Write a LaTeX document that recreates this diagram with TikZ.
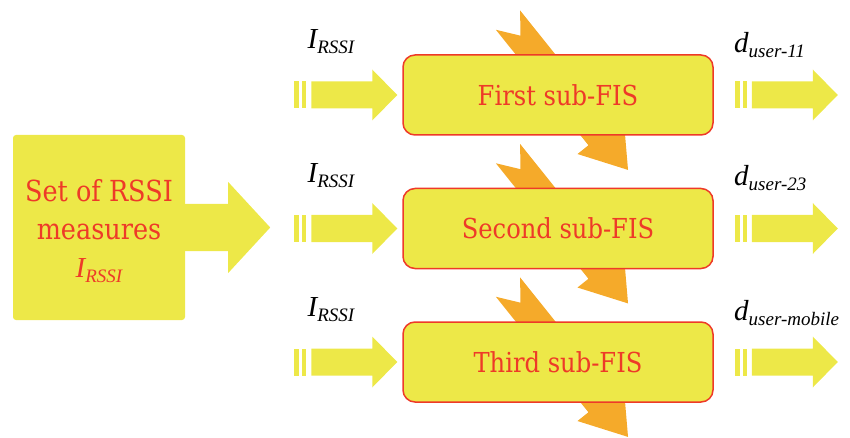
\documentclass[tikz,border=0pt]{standalone}
\usepackage{fontspec}
\setmainfont{DejaVu Serif}[FakeStretch=0.88]
\newfontfamily\lblfont{Liberation Serif}
\definecolor{fisyellow}{RGB}{237,232,72}
\definecolor{fisorange}{RGB}{245,170,42}
\definecolor{fisred}{RGB}{238,58,40}
% italic symbol with a lowered italic index
\newcommand\sublbl[2]{{\lblfont\itshape\fontsize{29}{29}\selectfont #1\raisebox{-5pt}{\fontsize{19}{19}\selectfont #2}}}
\tikzset{
  % notched block arrow passing behind a sub-FIS box
  zap/.pic={
    \fill[fisorange] (-76,0) -- (-96,-15.5) -- (52,-15.5) -- (52,-29.5) -- (96,0)
      -- (52,29.5) -- (52,15.5) -- (-96,15.5) -- cycle;
  },
  % small block arrow with two bars at its tail; tip at the origin
  feed/.pic={
    \fill[fisyellow] (-103,-13.5) rectangle (-98,13.5);
    \fill[fisyellow] (-95,-13.5) rectangle (-91,13.5);
    \fill[fisyellow] (-86,-13.5) -- (-25,-13.5) -- (-25,-25.5) -- (0,0)
      -- (-25,25.5) -- (-25,13.5) -- (-86,13.5) -- cycle;
  },
  fisbox/.style={draw=fisred, line width=1.5pt, fill=fisyellow, rounded corners=12pt,
    minimum width=310pt, minimum height=80pt, text=fisred, inner sep=0pt,
    font=\fontsize{27.5}{30}\selectfont},
  srcbox/.style={fill=fisyellow, rounded corners=3pt, minimum width=172pt,
    minimum height=185pt, inner sep=0pt},
  srctext/.style={text=fisred, align=center, inner sep=0pt,
    font=\fontsize{29}{38}\selectfont},
  lbl/.style={inner sep=0pt, text=black}
}
\begin{document}
\begin{tikzpicture}[x=1pt,y=-1pt]
\useasboundingbox (0,0) rectangle (850,438);
\clip (0,0) rectangle (850,438);

% orange arrows behind the three sub-FIS boxes
\coordinate (z1) at (568,95);
\coordinate (z2) at (568,228.5);
\coordinate (z3) at (568,362);
\pic[rotate=-51.3] at (z1) {zap};
\pic[rotate=-51.3] at (z2) {zap};
\pic[rotate=-51.3] at (z3) {zap};

% source block and its large arrow
\node[srcbox] (src) at (99,227.5) {};
\node[srctext] (srct) at (99,231) {Set of RSSI\\measures\\\sublbl{I}{RSSI}};
\fill[fisyellow] (src.east) ++(-1,-23.5) -- ++(44,0) -- ++(0,-22) -- ++(42,45.5)
  -- ++(-42,45.5) -- ++(0,-22) -- ++(-44,0) -- cycle;

% sub-FIS boxes
\node[fisbox] (b1) at (558,95) {First sub-FIS};
\node[fisbox] (b2) at (558,228.5) {Second sub-FIS};
\node[fisbox] (b3) at (558,362) {Third sub-FIS};

% input arrows
\pic at ([xshift=-5pt]b1.west) {feed};
\pic at ([xshift=-5pt]b2.west) {feed};
\pic at ([xshift=-5pt]b3.west) {feed};

% output arrows
\pic at ([xshift=124pt]b1.east) {feed};
\pic at ([xshift=124pt]b2.east) {feed};
\pic at ([xshift=124pt]b3.east) {feed};

% input labels
\node[lbl] (i1) at (331,42) {\sublbl{I}{RSSI}};
\node[lbl] (i2) at (331,176) {\sublbl{I}{RSSI}};
\node[lbl] (i3) at (331,310) {\sublbl{I}{RSSI}};

% output labels
\node[lbl, anchor=west] (o1) at (734,45) {\sublbl{d}{user-11}};
\node[lbl, anchor=west] (o2) at (734,178) {\sublbl{d}{user-23}};
\node[lbl, anchor=west] (o3) at (734,313) {\sublbl{d}{user-mobile}};
\end{tikzpicture}
\end{document}
